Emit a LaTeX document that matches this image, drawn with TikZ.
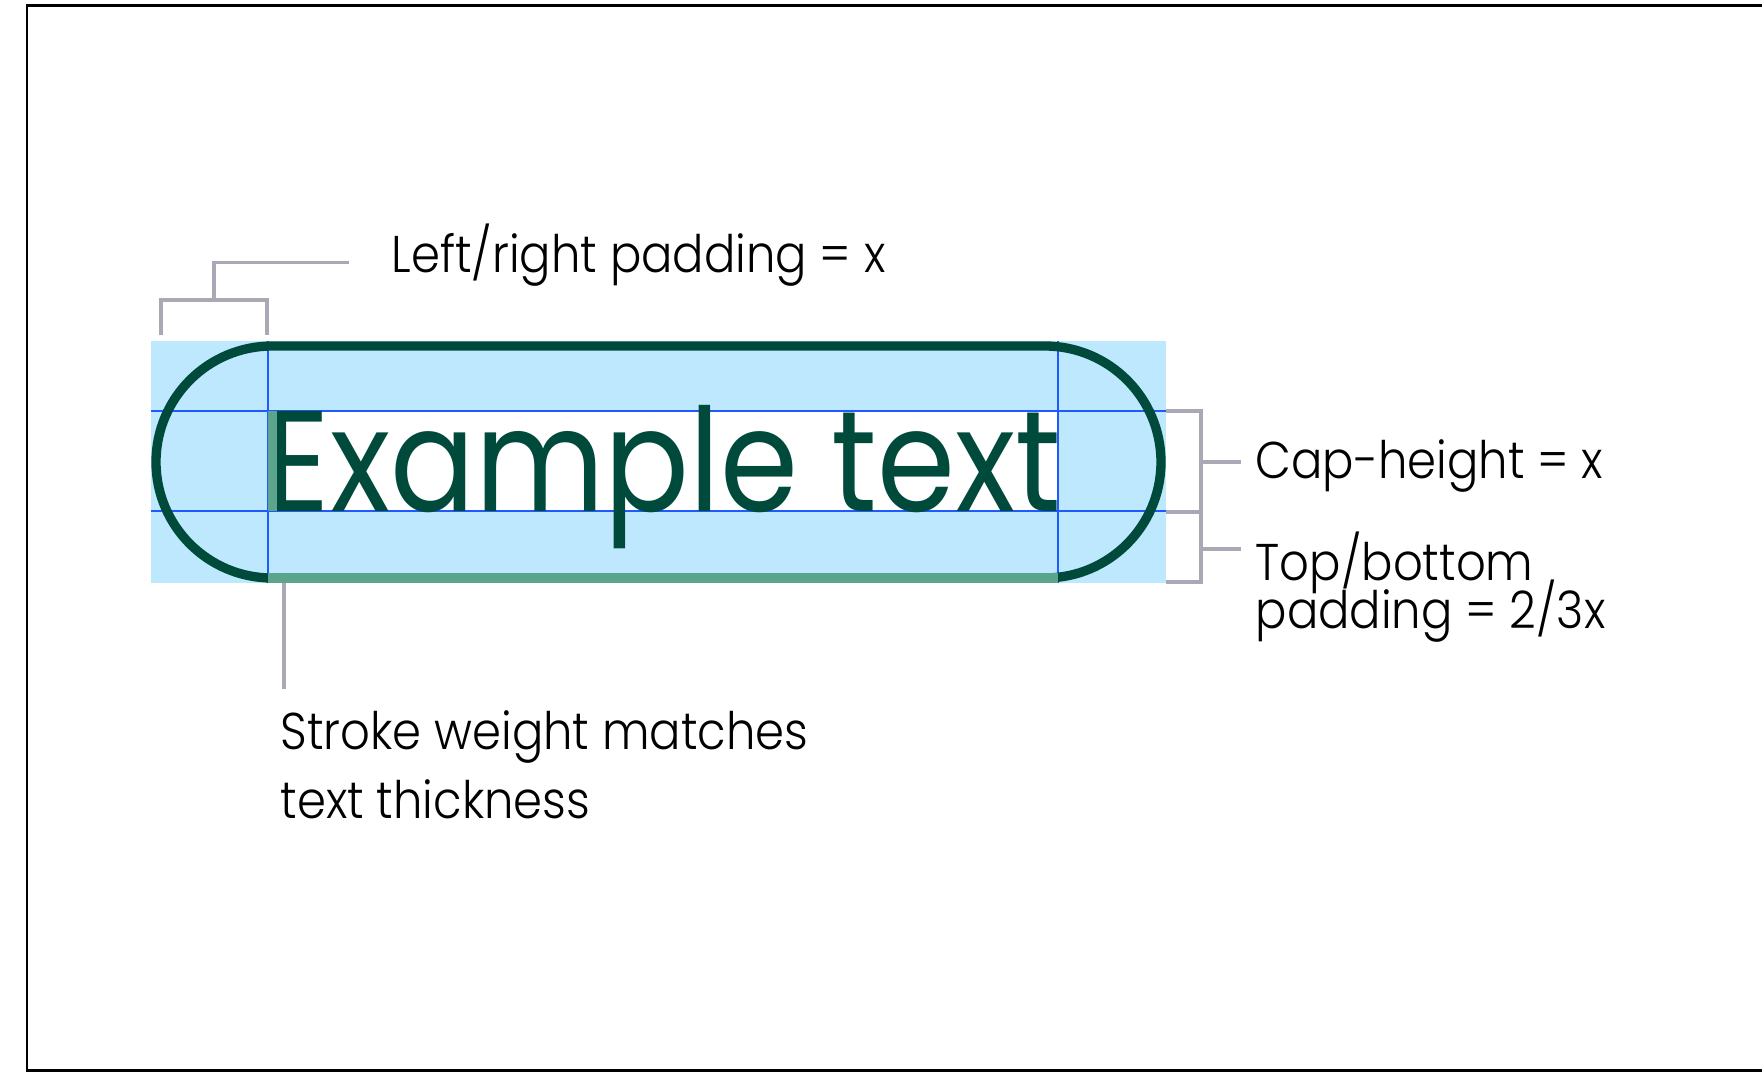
\documentclass[tikz,border=0pt]{standalone}
\usepackage{fontspec}
\setmainfont{Poppins}[UprightFont=* Light, FakeStretch=0.9]
\newfontfamily\pillfont{Poppins}[FakeStretch=0.875]
\usetikzlibrary{positioning}
\definecolor{padblue}{RGB}{189,232,253}
\definecolor{guideblue}{RGB}{30,90,255}
\definecolor{pillgreen}{RGB}{0,74,60}
\definecolor{strokegreen}{RGB}{91,165,140}
\definecolor{bracketgray}{RGB}{169,169,181}
\newcommand\tightlines{\lineskiplimit=-20pt\relax}

\begin{document}
\begin{tikzpicture}[
    x=0.01cm, y=-0.01cm,
    guide/.style={draw=guideblue, line width=0.4pt},
    bracket/.style={draw=bracketgray, line width=0.95pt},
    pill/.style={draw=pillgreen, line width=2.65pt, rounded corners=1.16cm},
    label/.style={anchor=base west, inner sep=0pt, font=\fontsize{14.7}{20}\selectfont}
  ]
    \useasboundingbox (0,0) rectangle (1762,1072);
    \draw[line width=0.85pt] (1762,5) -- (27,5) -- (27,1070) -- (1762,1070);

    % padding area and guides
    \fill[padblue] (151,341) rectangle (1166,583);
    \fill[white] (268,411) rectangle (1058,511);
    \foreach \y in {411,511} \draw[guide] (151,\y) -- (1166,\y);
    \foreach \x in {268,1058} \draw[guide] (\x,341) -- (\x,583);

    % the button
    \draw[pill] (156,346) rectangle (1161,578);
    \draw[strokegreen, line width=2.65pt] (268,578) -- (1058,578);
    \node[anchor=base west, inner sep=0pt, text=pillgreen, font=\pillfont\fontsize{40.8}{48}\selectfont] (sample) at (265,511) {Example text};
    \fill[strokegreen] (268,411) rectangle (277,511);

    % labels (base = last line)
    \node[label] (padlabel) at (391,272) {Left/right padding = x};
    \node[label] (caplabel) at (1255,478) {Cap-height = x};
    \node[label, align=left, font=\fontsize{14.7}{13.4}\selectfont\tightlines] (tblabel) at (1255,628) {Top/bottom\\padding = 2/3x};
    \node[label, align=left, font=\fontsize{14.7}{19.4}\selectfont] (strokelabel) at (280,818) {Stroke weight matches\\text thickness};

    % brackets
    \draw[bracket] (161,335) |- (267,300) -- (267,335);
    \draw[bracket] (214,300) |- ([xshift=-0.42cm, yshift=-0.08cm]padlabel.west);
    \draw[bracket] (1166,411) -| (1201,582) -- (1166,582);
    \draw[bracket] (1166,512) -- (1201,512);
    \draw[bracket] (1201,462) -- (1241,462);
    \draw[bracket] (1201,549) -- (1241,549);
    \draw[bracket] (284,583) -- (284,689);
  \end{tikzpicture}
\end{document}
